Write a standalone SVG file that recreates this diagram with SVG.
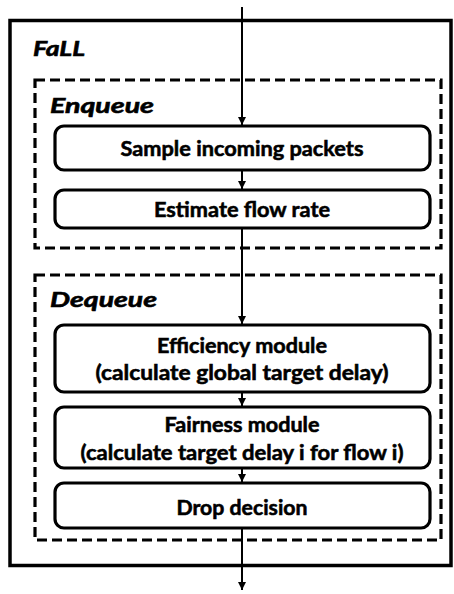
<svg xmlns="http://www.w3.org/2000/svg" width="454" height="594" viewBox="0 0 454 594">
  <style>
    .frame { fill: #fff; stroke: #000; stroke-width: 3.5; }
    .stage { fill: none; stroke: #000; stroke-width: 3.2; stroke-dasharray: 10 5; }
    .box { fill: #fff; stroke: #000; stroke-width: 3.2; }
    .lbl { font-family: Lato, "Open Sans", "Liberation Sans", sans-serif; font-weight: bold; font-size: 20.5px; text-anchor: middle; fill: #000; stroke: #000; stroke-width: 0.55px; }
    .title { font-family: Lato, "Open Sans", "Liberation Sans", sans-serif; font-weight: bold; font-style: italic; font-size: 21.5px; fill: #000; stroke: #000; stroke-width: 0.6px; }
    .flow { stroke: #000; stroke-width: 2; fill: none; marker-end: url(#head); }
  </style>
  <defs>
    <marker id="head" viewBox="0 0 8 8" refX="8" refY="4" markerWidth="8" markerHeight="8" markerUnits="userSpaceOnUse" orient="auto">
      <path d="M0,0 L8,4 L0,8 Z" fill="#000"/>
    </marker>
  </defs>

  <rect width="454" height="594" fill="#fff"/>

  <!-- outer FaLL block -->
  <g id="fall">
    <rect class="frame" x="10" y="20.5" width="441" height="545"/>
    <text class="title" x="33" y="56" textLength="52" lengthAdjust="spacingAndGlyphs">FaLL</text>
  </g>

  <!-- enqueue stage -->
  <g id="enqueue">
    <rect class="stage" x="35" y="80" width="406" height="168"/>
    <text class="title" x="50" y="113" textLength="104" lengthAdjust="spacingAndGlyphs">Enqueue</text>
  </g>

  <!-- dequeue stage -->
  <g id="dequeue">
    <rect class="stage" x="35" y="275" width="406" height="265"/>
    <text class="title" x="50" y="307" textLength="107" lengthAdjust="spacingAndGlyphs">Dequeue</text>
  </g>

  <g id="sample">
    <rect class="box" x="55" y="126" width="375" height="44" rx="9"/>
    <text class="lbl" x="242" y="156" textLength="243" lengthAdjust="spacingAndGlyphs">Sample incoming packets</text>
  </g>

  <g id="estimate">
    <rect class="box" x="55" y="190" width="375" height="38" rx="9"/>
    <text class="lbl" x="242" y="216.5" textLength="176" lengthAdjust="spacingAndGlyphs">Estimate flow rate</text>
  </g>

  <g id="efficiency">
    <rect class="box" x="55" y="325" width="375" height="67" rx="9"/>
    <text class="lbl" x="242" y="352.5" textLength="170" lengthAdjust="spacingAndGlyphs">Efficiency module</text>
    <text class="lbl" x="242" y="380" textLength="293" lengthAdjust="spacingAndGlyphs">(calculate global target delay)</text>
  </g>

  <g id="fairness">
    <rect class="box" x="55" y="407" width="375" height="61" rx="9"/>
    <text class="lbl" x="242" y="432" textLength="155" lengthAdjust="spacingAndGlyphs">Fairness module</text>
    <text class="lbl" x="242" y="460" textLength="323" lengthAdjust="spacingAndGlyphs">(calculate target delay i for flow i)</text>
  </g>

  <g id="drop">
    <rect class="box" x="55" y="483" width="375" height="45" rx="9"/>
    <text class="lbl" x="242" y="514.5" textLength="131" lengthAdjust="spacingAndGlyphs">Drop decision</text>
  </g>

  <!-- connectors -->
  <g id="connectors">
    <line class="flow" x1="242" y1="7" x2="242" y2="125"/>
    <line class="flow" x1="242" y1="171" x2="242" y2="189"/>
    <line class="flow" x1="242" y1="229" x2="242" y2="324"/>
    <line class="flow" x1="242" y1="393" x2="242" y2="406"/>
    <line class="flow" x1="242" y1="469" x2="242" y2="482"/>
    <line class="flow" x1="242" y1="529" x2="242" y2="590"/>
  </g>
</svg>
